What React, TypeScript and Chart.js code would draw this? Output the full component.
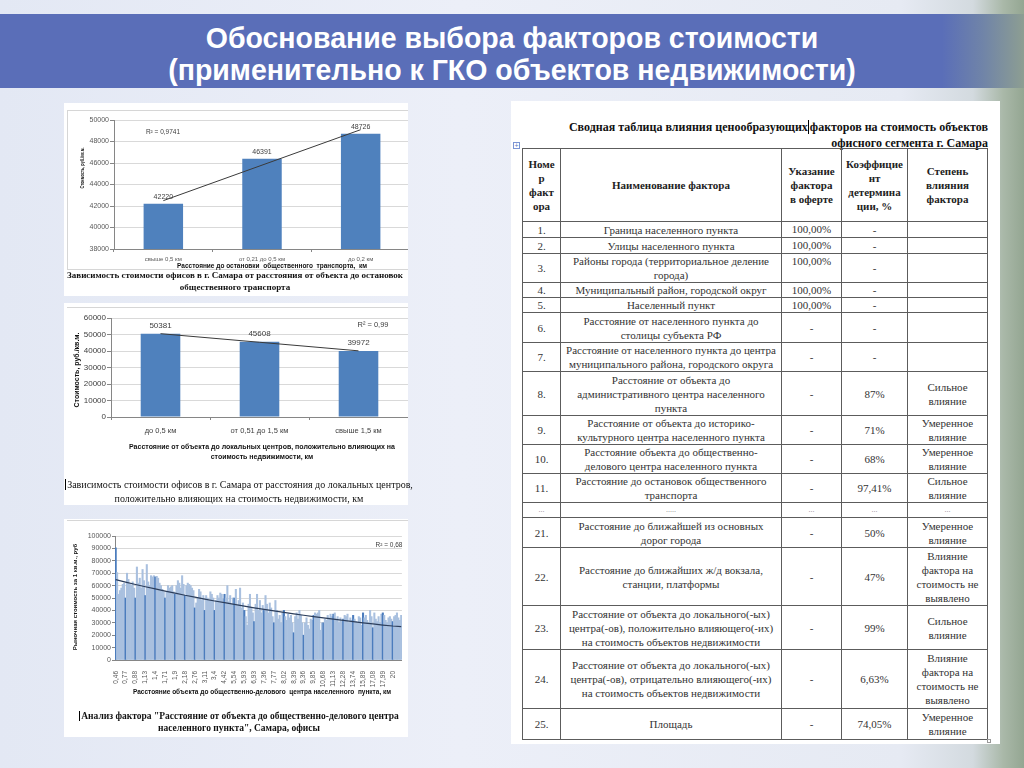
import React, { useEffect, useRef } from "react";
import { Chart, registerables } from "chart.js";

Chart.register(...registerables);

const SANS = "'Liberation Sans', Arial, sans-serif";
const SERIF = "'Liberation Serif', 'Times New Roman', serif";
const BAR_BLUE = "#4f81bd";
const BAR_LIGHT = "#a9c0df";
const BAR_DARK = "#4b7cbd";
const AXIS = "#868686";
const GRID = "#d9d9d9";

Chart.defaults.font.family = SANS;

// ---------- Chart 1: distance to public transport stops ----------
const c1Categories = ["свыше 0,5 км", "от 0,21 до 0,5 км", "до 0,2 км"];
const c1Values = [42220, 46391, 48726];
const c1Trend = [42500, 45800, 49100];
const c1YMin = 38000;
const c1YMax = 50000;
const c1YStep = 2000;

// ---------- Chart 2: distance to local centres ----------
const c2Categories = ["до 0,5 км", "от 0,51 до 1,5 км", "свыше 1,5 км"];
const c2Values = [50381, 45608, 39972];
const c2Trend = [50500, 45300, 40100];
const c2YMin = 0;
const c2YMax = 60000;
const c2YStep = 10000;

// ---------- Chart 3: distance to business centre ----------
const c3TickLabels = [
  "0,46", "0,77", "0,88", "1,13", "1,4", "1,71", "1,9", "2,18", "2,76", "3,11",
  "3,4", "4,42", "5,54", "5,93", "6,93", "7,36", "7,77", "8,02", "8,39", "9,36",
  "9,85", "10,68", "11,13", "12,28", "13,74", "15,89", "17,08", "17,99", "20",
];
const c3BarsPerTick = 7;
const c3Values = [
  90500, 70500, 53000, 56000, 58000, 61000, 62000,
  50000, 70000, 65000, 61000, 60000, 63000, 58000,
  50000, 75000, 62000, 66000, 58000, 73000, 64000,
  52000, 77000, 63000, 60000, 68000, 67000, 68000,
  67000, 67500, 66000, 62000, 60000, 57000, 55000,
  50000, 55000, 60000, 58000, 59000, 60000, 55000,
  53000, 60000, 64000, 62000, 58000, 68000, 61000,
  52000, 60000, 62000, 61000, 60000, 58000, 56000,
  42000, 46000, 50000, 57000, 55000, 48000, 52000,
  40000, 52000, 50000, 48000, 55000, 53000, 50000,
  40000, 48000, 52000, 50000, 54000, 53000, 49000,
  53000, 50000, 60000, 47000, 52000, 45000, 50000,
  50000, 57000, 44000, 48000, 58000, 42000, 46000,
  40000, 35000, 28000, 45000, 53000, 42000, 38000,
  31000, 45000, 53000, 40000, 48000, 38000, 44000,
  40000, 52000, 45000, 38000, 46000, 42000, 35000,
  30000, 48000, 40000, 33000, 36000, 30000, 38000,
  40000, 35000, 32000, 37000, 34000, 36000, 30000,
  22000, 35000, 38000, 33000, 40000, 36000, 30000,
  20000, 30000, 34000, 28000, 25000, 33000, 32000,
  36000, 38000, 37000, 38000, 40000, 24000, 30000,
  30000, 33000, 32000, 36000, 34000, 37000, 35000,
  37000, 38000, 33000, 35000, 30000, 34000, 31000,
  33000, 36000, 35000, 37000, 30000, 34000, 32000,
  36000, 33000, 31000, 30000, 35000, 34000, 28000,
  38000, 34000, 36000, 32000, 30000, 40000, 35000,
  26000, 38000, 33000, 31000, 35000, 30000, 37000,
  38000, 36000, 32000, 30000, 34000, 35000, 33000,
  31000, 35000, 36000, 38000, 34000, 32000, 36000,
];
// trend line read at each labelled tick, plus the last bar
const c3TrendAtTicks = [
  64800, 62800, 60900, 59100, 57300, 55600, 53900, 52200, 50700, 49100,
  47600, 46200, 44800, 43400, 42100, 40800, 39600, 38400, 37200, 36100,
  35000, 34000, 32900, 31900, 31000, 30000, 29100, 28200, 27400,
];
const c3TrendEnd = 26900;
const c3YMin = 0;
const c3YMax = 100000;
const c3YStep = 10000;

// ---------- Table ----------
const tableTitle1 = "Сводная таблица влияния ценообразующих";
const tableTitle2 = "факторов на стоимость объектов";
const tableTitle3 = "офисного сегмента г. Самара";
const tableHeader = [
  "Номе\nр\nфакт\nора",
  "Наименование фактора",
  "Указание\nфактора\nв оферте",
  "Коэффицие\nнт\nдетермина\nции, %",
  "Степень\nвлияния\nфактора",
];
const factorNumbers = [
  "1.", "2.", "3.", "4.", "5.", "6.", "7.", "8.", "9.", "10.", "11.", "...",
  "21.", "22.", "23.", "24.", "25.",
];
const factorNames = [
  "Граница населенного пункта",
  "Улицы населенного пункта",
  "Районы города (территориальное деление\nгорода)",
  "Муниципальный район, городской округ",
  "Населенный пункт",
  "Расстояние от населенного пункта до\nстолицы субъекта РФ",
  "Расстояние от населенного пункта до центра\nмуниципального района, городского округа",
  "Расстояние от объекта до\nадминистративного центра населенного\nпункта",
  "Расстояние от объекта до историко-\nкультурного центра населенного пункта",
  "Расстояние объекта до общественно-\nделового центра населенного пункта",
  "Расстояние до остановок общественного\nтранспорта",
  ".....",
  "Расстояние до ближайшей из основных\nдорог города",
  "Расстояние до ближайших ж/д вокзала,\nстанции, платформы",
  "Расстояние от объекта до локального(-ых)\nцентра(-ов), положительно влияющего(-их)\nна стоимость объектов недвижимости",
  "Расстояние от объекта до локального(-ых)\nцентра(-ов), отрицательно влияющего(-их)\nна стоимость объектов недвижимости",
  "Площадь",
];
const offerShares = [
  "100,00%", "100,00%", "100,00%", "100,00%", "100,00%", "-", "-", "-", "-", "-", "-", "...",
  "-", "-", "-", "-", "-",
];
const determination = [
  "-", "-", "-", "-", "-", "-", "-", "87%", "71%", "68%", "97,41%", "...",
  "50%", "47%", "99%", "6,63%", "74,05%",
];
const influence = [
  "", "", "", "", "", "", "",
  "Сильное\nвлияние",
  "Умеренное\nвлияние",
  "Умеренное\nвлияние",
  "Сильное\nвлияние",
  "...",
  "Умеренное\nвлияние",
  "Влияние\nфактора на\nстоимость не\nвыявлено",
  "Сильное\nвлияние",
  "Влияние\nфактора на\nстоимость не\nвыявлено",
  "Умеренное\nвлияние",
];

// layout sizes (px)
const colWidths = [38, 221, 60, 66, 80];
const rowHeights = [73, 16, 16, 29, 15, 15, 30, 29, 44, 29, 29, 29, 15, 30, 58, 44, 59, 31];

type TextItem = {
  text: string;
  x: number;
  y: number;
  font: string;
  color?: string;
  rotate?: number;
  scaleX?: number;
  align?: CanvasTextAlign;
};

function makeTextPlugin(items: TextItem[]) {
  return {
    id: "extraText",
    afterDraw(chart: any) {
      const ctx = chart.ctx as CanvasRenderingContext2D;
      items.forEach((it) => {
        ctx.save();
        ctx.translate(it.x, it.y);
        if (it.rotate) ctx.rotate(it.rotate);
        if (it.scaleX) ctx.scale(it.scaleX, 1);
        ctx.font = it.font;
        ctx.fillStyle = it.color || "#000";
        ctx.textAlign = it.align || "center";
        ctx.textBaseline = "middle";
        ctx.fillText(it.text, 0, 0);
        ctx.restore();
      });
    },
  };
}

function makeValueLabelPlugin(font: string, color: string, offset: number) {
  return {
    id: "valueLabels",
    afterDatasetsDraw(chart: any) {
      const ctx = chart.ctx as CanvasRenderingContext2D;
      ctx.save();
      ctx.font = font;
      ctx.fillStyle = color;
      ctx.textAlign = "center";
      ctx.textBaseline = "middle";
      chart.data.datasets.forEach((ds: any, di: number) => {
        if (ds.type !== "bar") return;
        chart.getDatasetMeta(di).data.forEach((el: any, i: number) => {
          ctx.fillText(String(ds.data[i]), el.x, el.y - offset);
        });
      });
      ctx.restore();
    },
  };
}

const plainNumber = (v: any) => String(v);

type BarParams = {
  labels: string[];
  values: number[];
  trend: number[];
  min: number;
  max: number;
  step: number;
  padding: { top: number; right: number; left: number; bottom: number };
  yAxisW: number;
  xAxisH: number;
  xTickPad: number;
  yTickFont: number;
  xTickFont: number;
  tickColor: string;
  valueFont: string;
  valueOffset: number;
  texts: TextItem[];
};

function barConfig(p: BarParams): any {
  return {
    type: "bar",
    data: {
      labels: p.labels,
      datasets: [
        {
          type: "line",
          data: p.trend,
          borderColor: "#3a3a3a",
          borderWidth: 1,
          pointRadius: 0,
          order: 0,
        },
        {
          type: "bar",
          data: p.values,
          backgroundColor: BAR_BLUE,
          barPercentage: 0.4,
          categoryPercentage: 1,
          order: 1,
        },
      ],
    },
    options: {
      responsive: false,
      animation: false,
      devicePixelRatio: 1,
      events: [],
      layout: { padding: p.padding },
      plugins: { legend: { display: false }, tooltip: { enabled: false } },
      scales: {
        x: {
          grid: {
            display: true,
            drawOnChartArea: false,
            drawTicks: true,
            tickLength: 3,
            tickColor: AXIS,
            color: AXIS,
          },
          border: { color: AXIS },
          ticks: {
            font: { size: p.xTickFont, family: SANS },
            color: p.tickColor,
            padding: p.xTickPad,
            autoSkip: false,
            maxRotation: 0,
            minRotation: 0,
          },
          afterFit: (s: any) => {
            s.height = p.xAxisH;
          },
        },
        y: {
          min: p.min,
          max: p.max,
          ticks: {
            stepSize: p.step,
            font: { size: p.yTickFont, family: SANS },
            color: p.tickColor,
            padding: 1,
            callback: plainNumber,
          },
          grid: { color: GRID, tickLength: 4, tickColor: AXIS },
          border: { color: AXIS },
          afterFit: (s: any) => {
            s.width = p.yAxisW;
          },
        },
      },
    },
    plugins: [makeTextPlugin(p.texts), makeValueLabelPlugin(p.valueFont, "#404040", p.valueOffset)],
  };
}

function chart1Config() {
  return barConfig({
    labels: c1Categories,
    values: c1Values,
    trend: c1Trend,
    min: c1YMin,
    max: c1YMax,
    step: c1YStep,
    padding: { top: 12, right: 2, left: 0, bottom: 0 },
    yAxisW: 48,
    xAxisH: 23,
    xTickPad: 4,
    yTickFont: 7,
    xTickFont: 6,
    tickColor: "#595959",
    valueFont: `7px ${SANS}`,
    valueOffset: 7,
    texts: [
      { text: "R² = 0,9741", x: 97, y: 24, font: `6.5px ${SANS}`, color: "#404040" },
      {
        text: "Стоимость, руб./кв.м.",
        x: 16,
        y: 60,
        font: `bold 5.5px ${SANS}`,
        rotate: -Math.PI / 2,
        scaleX: 0.7,
        color: "#111",
      },
      {
        text: "Расстояние до остановки  общественного  транспорта,  км",
        x: 206,
        y: 158,
        font: `bold 6.5px ${SANS}`,
        color: "#111",
      },
    ],
  });
}

function chart2Config() {
  return barConfig({
    labels: c2Categories,
    values: c2Values,
    trend: c2Trend,
    min: c2YMin,
    max: c2YMax,
    step: c2YStep,
    padding: { top: 10, right: 4, left: 0, bottom: 0 },
    yAxisW: 45,
    xAxisH: 45,
    xTickPad: 6,
    yTickFont: 8,
    xTickFont: 7.5,
    tickColor: "#404040",
    valueFont: `8px ${SANS}`,
    valueOffset: 8,
    texts: [
      { text: "R² = 0,99", x: 307, y: 17, font: `7.5px ${SANS}`, color: "#404040" },
      {
        text: "Стоимость, руб./кв.м.",
        x: 11,
        y: 62,
        font: `bold 7px ${SANS}`,
        rotate: -Math.PI / 2,
        color: "#111",
      },
      {
        text: "Расстояние от объекта до локальных центров, положительно влияющих на",
        x: 196,
        y: 139,
        font: `bold 7px ${SANS}`,
        color: "#111",
      },
      { text: "стоимость недвижимости, км", x: 196, y: 149, font: `bold 7px ${SANS}`, color: "#111" },
    ],
  });
}

function chart3Config(): any {
  const labels = c3Values.map((_, i) =>
    i % c3BarsPerTick === 0 ? c3TickLabels[i / c3BarsPerTick] : ""
  );
  const trend = c3Values.map((_, i) => {
    if (i % c3BarsPerTick === 0) return c3TrendAtTicks[i / c3BarsPerTick];
    if (i === c3Values.length - 1) return c3TrendEnd;
    return null;
  });
  const colors = c3Values.map((_, i) => (i % c3BarsPerTick === 0 ? BAR_DARK : BAR_LIGHT));
  const texts: TextItem[] = [
    { text: "R² = 0,68", x: 323, y: 22, font: `6.5px ${SANS}`, color: "#404040" },
    {
      text: "Рыночная стоимость за 1 кв.м., руб",
      x: 9,
      y: 74,
      font: `bold 6px ${SANS}`,
      rotate: -Math.PI / 2,
      color: "#111",
    },
    {
      text: "Расстояние объекта до общественно-делового  центра населенного  пункта, км",
      x: 196,
      y: 169,
      font: `bold 6.5px ${SANS}`,
      color: "#111",
    },
  ];
  return {
    type: "bar",
    data: {
      labels,
      datasets: [
        {
          type: "line",
          data: trend,
          spanGaps: true,
          borderColor: "#2c3e5c",
          borderWidth: 1.2,
          pointRadius: 0,
          order: 0,
        },
        {
          type: "bar",
          data: c3Values,
          backgroundColor: colors,
          barPercentage: 1,
          categoryPercentage: 1,
          order: 1,
        },
      ],
    },
    options: {
      responsive: false,
      animation: false,
      devicePixelRatio: 1,
      events: [],
      layout: { padding: { top: 13, right: 2, left: 0, bottom: 0 } },
      plugins: { legend: { display: false }, tooltip: { enabled: false } },
      scales: {
        x: {
          grid: { display: false },
          border: { color: AXIS },
          ticks: {
            font: { size: 6.5, family: SANS },
            color: "#595959",
            padding: 3,
            autoSkip: false,
            minRotation: 90,
            maxRotation: 90,
            callback: (_v: any, i: number) => labels[i],
          },
          afterFit: (s: any) => {
            s.height = 36;
          },
        },
        y: {
          min: c3YMin,
          max: c3YMax,
          ticks: {
            stepSize: c3YStep,
            font: { size: 7, family: SANS },
            color: "#595959",
            padding: 1,
            callback: plainNumber,
          },
          grid: { color: GRID, tickLength: 3, tickColor: AXIS },
          border: { color: AXIS },
          afterFit: (s: any) => {
            s.width = 49;
          },
        },
      },
    },
    plugins: [makeTextPlugin(texts)],
  };
}

function ChartCanvas(props: {
  make: () => any;
  left: number;
  top: number;
  width: number;
  height: number;
}) {
  const ref = useRef<HTMLCanvasElement | null>(null);
  useEffect(() => {
    const chart = new Chart(ref.current as HTMLCanvasElement, props.make());
    return () => chart.destroy();
  }, []);
  return (
    <canvas
      ref={ref}
      width={props.width}
      height={props.height}
      style={{
        position: "absolute",
        left: props.left,
        top: props.top,
        width: props.width,
        height: props.height,
      }}
    />
  );
}

const abs = (left: number, top: number, width: number, height: number): React.CSSProperties => ({
  position: "absolute",
  left,
  top,
  width,
  height,
});

function Caption(props: {
  lines: string[];
  left: number;
  top: number;
  width: number;
  size: number;
  lh: number;
  bold: boolean;
  cursor?: boolean;
}) {
  return (
    <div
      style={{
        position: "absolute",
        left: props.left,
        top: props.top,
        width: props.width,
        textAlign: "center",
        fontFamily: SERIF,
        fontSize: props.size,
        lineHeight: props.lh + "px",
        fontWeight: props.bold ? 700 : 400,
        color: "#111",
        whiteSpace: "nowrap",
      }}
    >
      {props.lines.map((l, i) => (
        <div key={i}>
          {i === 0 && props.cursor ? (
            <span style={{ borderLeft: "1px solid #000", marginRight: 1 }} />
          ) : null}
          {l}
        </div>
      ))}
    </div>
  );
}

function SummaryTable() {
  const rows: string[][] = factorNumbers.map((n, i) => [
    n,
    factorNames[i],
    offerShares[i],
    determination[i],
    influence[i],
  ]);
  const cellBase: React.CSSProperties = {
    boxSizing: "border-box",
    borderRight: "1px solid #5c5c5c",
    borderBottom: "1px solid #5c5c5c",
    display: "flex",
    alignItems: "center",
    justifyContent: "center",
    textAlign: "center",
    whiteSpace: "pre-line",
    overflow: "hidden",
    fontFamily: SERIF,
    fontSize: 11,
    lineHeight: "14px",
    color: "#333",
  };
  return (
    <div
      style={{
        position: "absolute",
        left: 522,
        top: 148,
        borderLeft: "1px solid #5c5c5c",
        borderTop: "1px solid #5c5c5c",
        display: "grid",
        gridTemplateColumns: colWidths.map((w) => w + "px").join(" "),
        gridTemplateRows: rowHeights.map((h) => h + "px").join(" "),
      }}
    >
      {tableHeader.map((h, ci) => (
        <div key={"h" + ci} style={{ ...cellBase, fontWeight: 700, color: "#222" }}>
          {h}
        </div>
      ))}
      {rows.map((r, ri) =>
        r.map((c, ci) => {
          const isDots = factorNumbers[ri] === "...";
          const topAlign = ci === 2 && c === "100,00%";
          return (
            <div
              key={ri + "-" + ci}
              style={{
                ...cellBase,
                alignItems: topAlign ? "flex-start" : "center",
                fontSize: isDots ? 8 : 11,
                color: isDots ? "#888" : "#333",
              }}
            >
              {c}
            </div>
          );
        })
      )}
    </div>
  );
}

export default function App() {
  return (
    <div
      style={{
        position: "fixed",
        left: 0,
        top: 0,
        width: 1024,
        height: 768,
        overflow: "hidden",
        background:
          "linear-gradient(90deg, #e3e8f4 0%, #eceff8 45%, #e6eaf3 88%, #d3dadf 95%, #a9b8a8 98%, #94a692 100%)",
      }}
    >
      {/* title bar */}
      <div
        style={{
          ...abs(0, 14, 1024, 74),
          background:
            "linear-gradient(90deg, #5a6eb8 0%, #5a6eb8 92%, #7084a8 96%, #8d9e92 100%)",
        }}
      />
      <div
        style={{
          ...abs(0, 22, 1024, 64),
          textAlign: "center",
          color: "#fff",
          fontFamily: SANS,
          fontWeight: 700,
          fontSize: 30,
          lineHeight: "32px",
          whiteSpace: "nowrap",
        }}
      >
        <div style={{ transform: "scaleX(0.95)" }}>Обоснование выбора факторов стоимости</div>
        <div style={{ transform: "scaleX(0.95)" }}>(применительно к ГКО объектов недвижимости)</div>
      </div>

      {/* panel 1 */}
      <div style={{ ...abs(64, 103, 344, 193), background: "#fff", overflow: "hidden" }}>
        <div style={{ ...abs(3, 7, 345, 160), border: "1px solid #d6d6d6", boxSizing: "border-box" }} />
        <ChartCanvas make={chart1Config} left={2} top={5} width={346} height={164} />
      </div>
      <Caption
        lines={[
          "Зависимость стоимости офисов в г. Самара от расстояния от объекта до остановок",
          "общественного транспорта",
        ]}
        left={64}
        top={270}
        width={342}
        size={9}
        lh={11.5}
        bold
      />

      {/* panel 2 */}
      <div style={{ ...abs(64, 303, 344, 202), background: "#fff", overflow: "hidden" }}>
        <div style={{ ...abs(3, 4, 345, 1), background: "#d6d6d6" }} />
        <ChartCanvas make={chart2Config} left={2} top={5} width={346} height={154} />
      </div>
      <Caption
        lines={[
          "Зависимость стоимости офисов в г. Самара от расстояния до локальных центров,",
          "положительно влияющих на стоимость недвижимости, км",
        ]}
        left={64}
        top={478}
        width={350}
        size={10}
        lh={14}
        bold={false}
        cursor
      />

      {/* panel 3 */}
      <div style={{ ...abs(64, 519, 344, 218), background: "#fff", overflow: "hidden" }}>
        <div style={{ ...abs(3, 1, 345, 1), background: "#d6d6d6" }} />
        <ChartCanvas make={chart3Config} left={2} top={4} width={346} height={173} />
      </div>
      <Caption
        lines={[
          "Анализ фактора \"Расстояние от объекта до общественно-делового центра",
          "населенного пункта\", Самара, офисы",
        ]}
        left={64}
        top={711}
        width={350}
        size={9.5}
        lh={11.5}
        bold
        cursor
      />

      {/* table panel */}
      <div style={{ ...abs(511, 101, 489, 643), background: "#fff" }} />
      <div
        style={{
          ...abs(520, 119, 468, 32),
          textAlign: "right",
          fontFamily: SERIF,
          fontWeight: 700,
          fontSize: 12,
          lineHeight: "16px",
          color: "#111",
          whiteSpace: "nowrap",
        }}
      >
        <div>
          {tableTitle1}
          <span style={{ borderLeft: "1px solid #000", margin: "0 0.5px" }} />
          {tableTitle2}
        </div>
        <div>{tableTitle3}</div>
      </div>
      <div
        style={{
          ...abs(513, 142, 7, 7),
          boxSizing: "border-box",
          border: "1px solid #7b95d4",
          background: "#fff",
          color: "#5a78c4",
          fontSize: 7,
          lineHeight: "5px",
          textAlign: "center",
          fontFamily: SANS,
        }}
      >
        +
      </div>
      <SummaryTable />
      <div
        style={{
          ...abs(987, 739, 4, 4),
          boxSizing: "border-box",
          border: "1px solid #999",
          background: "#fff",
        }}
      />
    </div>
  );
}
